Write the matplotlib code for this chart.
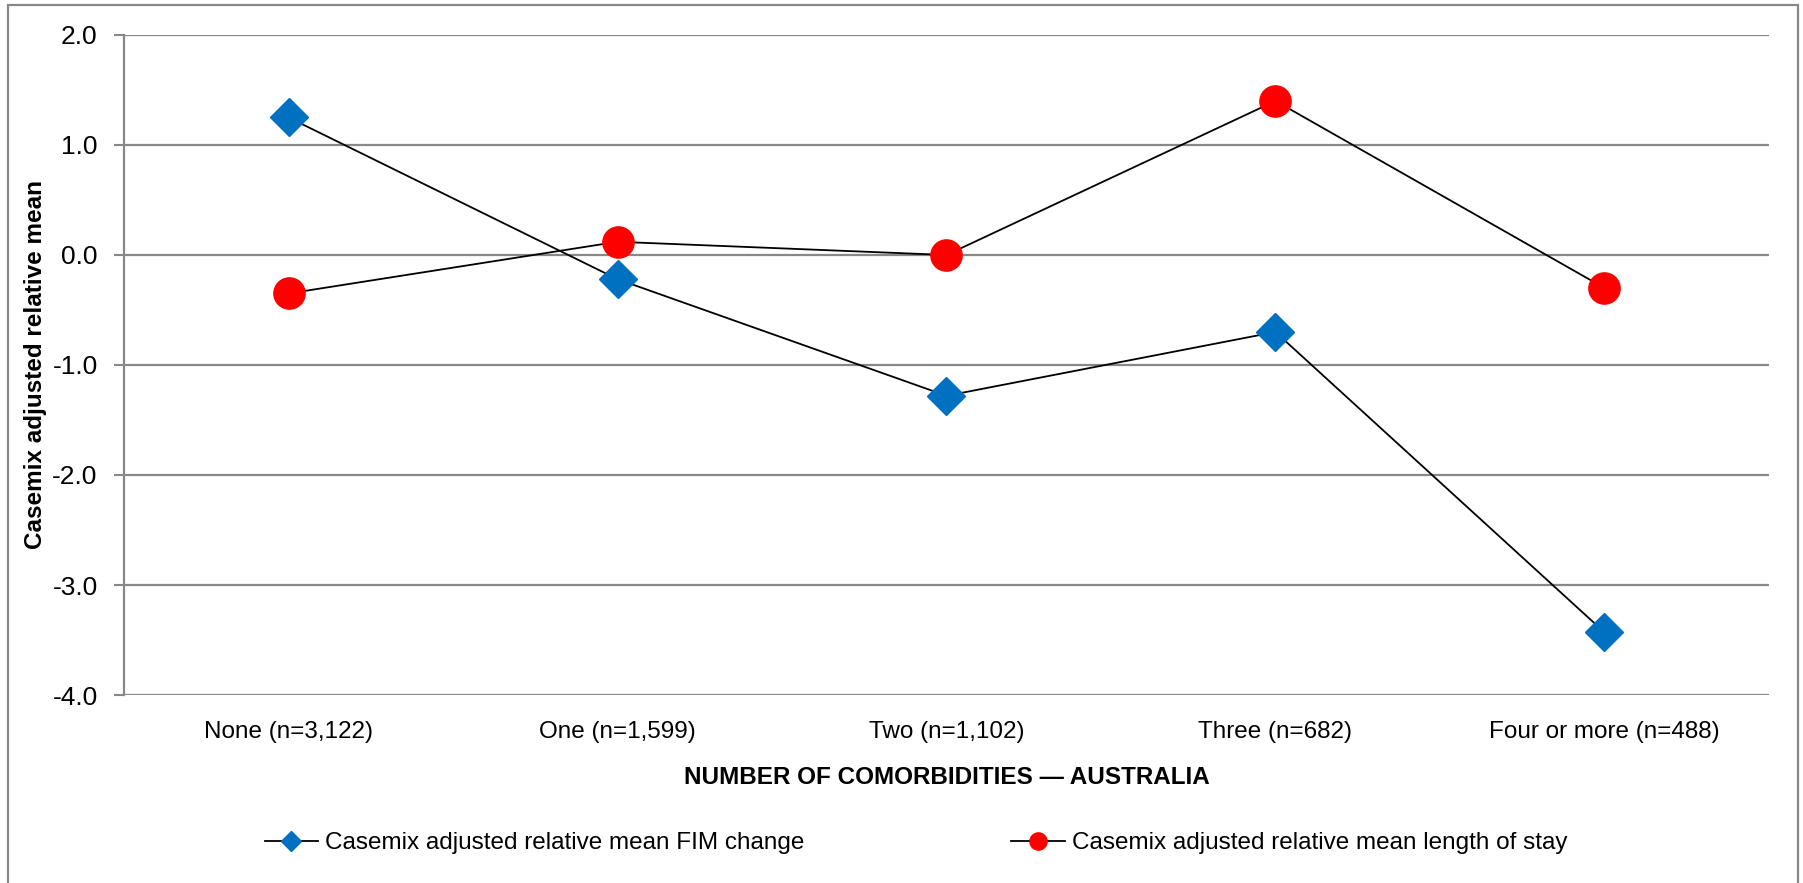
#### ライブラリのインポート ####
import numpy as np
import matplotlib.pyplot as plt
from matplotlib.patches import Rectangle

#### データ ####
categories = ["None (n=3,122)", "One (n=1,599)", "Two (n=1,102)",
              "Three (n=682)", "Four or more (n=488)"]
fim_change = [1.25, -0.22, -1.28, -0.70, -3.43]
length_of_stay = [-0.35, 0.12, 0.0, 1.40, -0.30]

fim_label = "Casemix adjusted relative mean FIM change"
los_label = "Casemix adjusted relative mean length of stay"

#### フォントの設定 ####
plt.rcParams["font.family"] = ["Liberation Sans", "DejaVu Sans"]

#### グラフの作成 ####
fig = plt.figure(figsize=(18.03, 8.83), dpi=100)
ax = fig.add_axes([0.0688, 0.2129, 0.9811 - 0.0688, 0.9604 - 0.2129])

x = np.arange(len(categories))
ax.plot(x, fim_change, color="black", lw=1.3, marker="D", ms=19,
        mfc="#0070C0", mec="#0070C0", label=fim_label, zorder=3)
ax.plot(x, length_of_stay, color="black", lw=1.3, marker="o", ms=22.5,
        mfc="#FF0000", mec="#FF0000", label=los_label, zorder=3)

# 軸の範囲と目盛
ax.set_xlim(-0.5, len(categories) - 0.5)
ax.set_ylim(-4.0, 2.0)
ax.set_yticks(np.arange(-4.0, 2.01, 1.0))
ax.set_yticklabels([f"{v:.1f}" for v in np.arange(-4.0, 2.01, 1.0)], fontsize=19)
ax.set_xticks(x)
ax.set_xticklabels(categories, fontsize=17.5)
ax.tick_params(axis="x", length=0, pad=19)
ax.tick_params(axis="y", length=7, width=1.5, color="#888888", pad=12)

# 目盛線
ax.yaxis.grid(True, color="#888888", lw=1.6)
ax.set_axisbelow(True)
for side in ["top", "right", "bottom"]:
    ax.spines[side].set_visible(False)
ax.spines["left"].set_color("#888888")
ax.spines["left"].set_linewidth(1.6)

# ラベル
ax.set_xlabel("NUMBER OF COMORBIDITIES — AUSTRALIA", fontsize=17.5,
              fontweight="bold", labelpad=16)
ax.set_ylabel("Casemix adjusted relative mean", fontsize=17.5,
              fontweight="bold")
ax.yaxis.set_label_coords(-0.047, 0.5)

# 凡例
fig.legend(loc="center", bbox_to_anchor=(916 / 1803, 1 - 843 / 883), ncol=2,
           frameon=False, fontsize=17.5, columnspacing=8.5, handlelength=2.2,
           handletextpad=0.3, markerscale=0.55)

# 外枠
fig.patches.append(Rectangle((8 / 1803, -0.01), (1798 - 8) / 1803, 1 - 5 / 883 + 0.01,
                             transform=fig.transFigure, fill=False,
                             edgecolor="#888888", lw=1.6))

plt.savefig("out.png", dpi=100)
